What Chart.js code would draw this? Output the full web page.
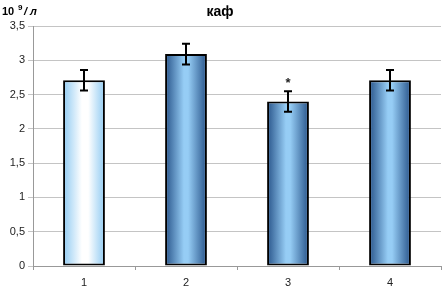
<!DOCTYPE html>
<html>
<head>
<meta charset="utf-8">
<script src="https://cdn.jsdelivr.net/npm/chart.js@4"></script>
<style>
  html, body { margin: 0; padding: 0; background: #fff; }
  #wrap { width: 444px; height: 289px; }
</style>
</head>
<body>
<div id="wrap"><canvas id="barChart" width="444" height="289"></canvas></div>
<script>
const labels = ['1', '2', '3', '4'];
const values = [2.71, 3.09, 2.40, 2.71];
const errors = [0.15, 0.15, 0.15, 0.15];
const marks = ['', '', '*', ''];
const yTicks = [0, 0.5, 1, 1.5, 2, 2.5, 3, 3.5];

const barPct = 0.41;

// горизонтальный градиент для каждого столбика
const barFill = (ctx) => {
    const chart = ctx.chart;
    const xs = chart.scales.x;
    if (!chart.chartArea || !xs) return '#7fb4e6';
    const cx = xs.getPixelForValue(ctx.dataIndex);
    const half = xs.width / labels.length * barPct / 2;
    const g = chart.ctx.createLinearGradient(cx - half, 0, cx + half, 0);
    if (ctx.dataIndex === 0) {
        g.addColorStop(0, '#8fcaf2');
        g.addColorStop(0.45, '#ffffff');
        g.addColorStop(0.6, '#ffffff');
        g.addColorStop(1, '#8fcaf2');
    } else {
        g.addColorStop(0, '#28548a');
        g.addColorStop(0.45, '#96cdf5');
        g.addColorStop(0.55, '#96cdf5');
        g.addColorStop(1, '#28548a');
    }
    return g;
};

const extras = {
    id: 'extras',
    afterDatasetsDraw(chart) {
        const {ctx, scales: {x, y}} = chart;
        ctx.save();
        ctx.strokeStyle = '#000';
        ctx.lineWidth = 2;
        values.forEach((v, i) => {
            const cx = x.getPixelForValue(i);
            const top = y.getPixelForValue(v + errors[i]);
            const bot = y.getPixelForValue(v - errors[i]);
            ctx.beginPath();
            ctx.moveTo(cx, top); ctx.lineTo(cx, bot);
            ctx.moveTo(cx - 4, top); ctx.lineTo(cx + 4, top);
            ctx.moveTo(cx - 4, bot); ctx.lineTo(cx + 4, bot);
            ctx.stroke();
            if (marks[i]) {
                ctx.fillStyle = '#222';
                ctx.font = 'bold 13px "Liberation Sans", Arial, sans-serif';
                ctx.textAlign = 'center';
                ctx.textBaseline = 'middle';
                ctx.fillText(marks[i], cx, top - 8);
            }
        });
        // подписи сверху
        ctx.fillStyle = '#000';
        ctx.textBaseline = 'alphabetic';
        ctx.textAlign = 'left';
        ctx.font = 'bold 11px "Liberation Sans", Arial, sans-serif';
        ctx.fillText('10', 2, 15);
        ctx.font = 'bold 8px "Liberation Sans", Arial, sans-serif';
        ctx.fillText('9', 18, 10);
        ctx.font = 'bold italic 11px "Liberation Sans", Arial, sans-serif';
        ctx.fillText('/ л', 24, 15);
        ctx.font = 'bold 14px "Liberation Sans", Arial, sans-serif';
        ctx.textAlign = 'center';
        ctx.fillText('каф', 220, 16);
        ctx.restore();
    }
};

new Chart(document.getElementById('barChart').getContext('2d'), {
    type: 'bar',
    data: {
        labels: labels,
        datasets: [{
            data: values,
            backgroundColor: barFill,
            borderColor: '#000',
            borderWidth: 2,
            borderSkipped: false,
            barPercentage: barPct,
            categoryPercentage: 1
        }]
    },
    options: {
        responsive: false,
        animation: false,
        devicePixelRatio: 1,
        layout: {padding: {top: 26, right: 3, left: 0, bottom: 0}},
        plugins: {legend: {display: false}, tooltip: {enabled: false}},
        scales: {
            x: {
                afterFit: (axis) => { axis.height = 23; },
                grid: {offset: true, drawOnChartArea: false, tickLength: 4, color: '#999'},
                border: {color: '#999'},
                ticks: {color: '#222', font: {size: 11, family: 'Liberation Sans'}, padding: 6}
            },
            y: {
                min: 0, max: 3.5,
                afterBuildTicks: (axis) => { axis.ticks = yTicks.map(v => ({value: v})); },
                afterFit: (axis) => { axis.width = 33; },
                grid: {color: '#c4c4c4', tickLength: 5},
                border: {color: '#999'},
                ticks: {
                    color: '#222',
                    font: {size: 11, family: 'Liberation Sans'},
                    padding: 3,
                    callback: (v) => String(v).replace('.', ',')
                }
            }
        }
    },
    plugins: [extras]
});
</script>
</body>
</html>
